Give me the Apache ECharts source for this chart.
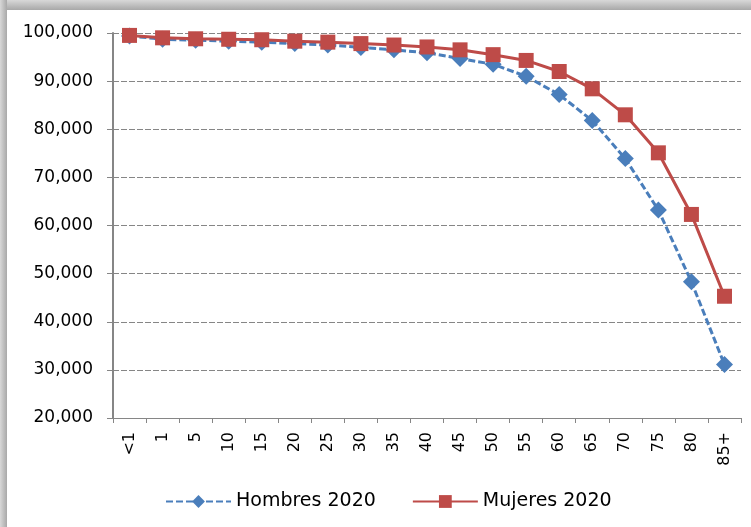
<!DOCTYPE html>
<html>
<head>
<meta charset="utf-8">
<script src="https://cdn.jsdelivr.net/npm/echarts@6/dist/echarts.min.js"></script>
<style>
  html, body { margin: 0; padding: 0; background: #fff; }
  #main { width: 751px; height: 527px; }
</style>
</head>
<body>
<div id="main"></div>
<script>
var edades = ['<1', '1', '5', '10', '15', '20', '25', '30', '35', '40', '45', '50', '55', '60', '65', '70', '75', '80', '85+'];
var hombres = [99400, 98700, 98500, 98300, 98100, 97800, 97500, 97000, 96500, 95900, 94700, 93500, 91000, 87200, 81800, 73900, 63200, 48300, 31100];
var mujeres = [99500, 99000, 98800, 98700, 98600, 98300, 98100, 97800, 97500, 97100, 96500, 95500, 94300, 92000, 88400, 83000, 75100, 62300, 45300];
var yMin = 20000, yMax = 100000, yPaso = 10000;

var myChart = echarts.init(document.getElementById('main'));
var grisEje = '#868686';
var fuente = 'DejaVu Sans';

option = {
    backgroundColor: '#fff',
    animation: false,
    // borde sombreado arriba e izquierda
    graphic: [
        {
            type: 'rect',
            shape: { x: 0, y: 0, width: 751, height: 10 },
            style: {
                fill: new echarts.graphic.LinearGradient(0, 0, 0, 1, [
                    { offset: 0, color: '#d8d8d8' },
                    { offset: 1, color: '#a8a8a8' }
                ])
            }
        },
        {
            type: 'rect',
            shape: { x: 0, y: 0, width: 7, height: 527 },
            style: {
                fill: new echarts.graphic.LinearGradient(0, 0, 1, 0, [
                    { offset: 0, color: '#d8d8d8' },
                    { offset: 1, color: '#a8a8a8' }
                ])
            }
        }
    ],
    grid: {
        left: 113,
        right: 10,
        top: 33,
        bottom: 109
    },
    legend: {
        left: 160,
        top: 487,
        itemWidth: 65,
        itemHeight: 16,
        itemGap: 36,
        textStyle: { fontFamily: fuente, fontSize: 19, color: '#000' },
        data: ['Hombres 2020', 'Mujeres 2020']
    },
    xAxis: {
        type: 'category',
        data: edades,
        boundaryGap: true,
        axisLine: { lineStyle: { color: grisEje, width: 1 } },
        axisTick: { show: true, length: 5, lineStyle: { color: grisEje } },
        axisLabel: {
            interval: 0,
            rotate: 90,
            margin: 14,
            fontFamily: fuente,
            fontSize: 16,
            color: '#000'
        }
    },
    yAxis: {
        type: 'value',
        min: yMin,
        max: yMax,
        interval: yPaso,
        axisLine: { show: true, lineStyle: { color: grisEje, width: 2 } },
        axisTick: { show: true, length: 6, lineStyle: { color: grisEje } },
        splitLine: { lineStyle: { color: grisEje, type: [6, 2], width: 1 } },
        axisLabel: {
            margin: 20,
            fontFamily: fuente,
            fontSize: 17,
            color: '#000',
            formatter: function (v) {
                return v.toLocaleString('en-US');
            }
        }
    },
    series: [
        {
            name: 'Hombres 2020',
            type: 'line',
            data: hombres,
            symbol: 'diamond',
            symbolSize: 17,
            itemStyle: { color: '#4A7EBB' },
            lineStyle: { color: '#4A7EBB', width: 3, type: [7, 3] },
            z: 2
        },
        {
            name: 'Mujeres 2020',
            type: 'line',
            data: mujeres,
            symbol: 'rect',
            symbolSize: 15,
            itemStyle: { color: '#BE4B48' },
            lineStyle: { color: '#BE4B48', width: 3 },
            z: 3
        }
    ]
};
myChart.setOption(option);
</script>
</body>
</html>
